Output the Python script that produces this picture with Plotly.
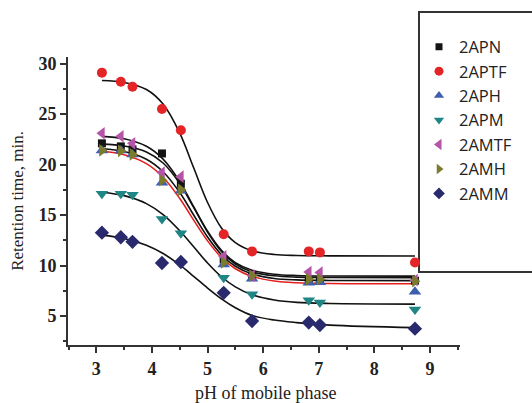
import plotly.graph_objects as go

# ---- data ----
ph = [3.1, 3.44, 3.65, 4.18, 4.52, 5.29, 5.8, 6.82, 7.02, 8.73]
names = ["2APN", "2APTF", "2APH", "2APM", "2AMTF", "2AMH", "2AMM"]
apn = [22.1, 21.8, 21.5, 21.1, 18.1, 10.6, 9.0, 8.5, 8.5, 8.5]
aptf = [29.1, 28.2, 27.7, 25.5, 23.4, 13.1, 11.4, 11.4, 11.3, 10.3]
aph = [21.4, 21.4, 21.0, 18.2, 17.4, 10.1, 8.7, 8.3, 8.35, 7.4]
apm = [17.1, 17.1, 17.0, 14.6, 13.2, 8.8, 7.15, 6.55, 6.35, 5.65]
amtf = [23.1, 22.8, 22.1, 19.2, 18.8, 10.9, 9.0, 9.35, 9.3, 8.55]
amh = [21.4, 21.35, 21.0, 18.45, 17.5, 10.3, 9.0, 8.65, 8.65, 8.45]
amm = [13.25, 12.8, 12.35, 10.25, 10.35, 7.3, 4.5, 4.35, 4.1, 3.75]

# fitted curves at these pH values
fit_ph = [3.1, 3.5, 3.9, 4.2, 4.5, 4.75, 5.0, 5.25, 5.5, 5.8, 6.2, 6.6, 7.2, 8.73]
fit_apn = [22.02, 21.83, 21.24, 20.15, 18.12, 15.75, 13.31, 11.38, 10.15, 9.38, 8.98, 8.85, 8.81, 8.8]
fit_aptf = [28.33, 28.13, 27.43, 25.99, 23.11, 19.68, 16.24, 13.72, 12.27, 11.46, 11.09, 10.99, 10.96, 10.95]
fit_aph = [21.31, 20.97, 20.09, 18.74, 16.64, 14.5, 12.44, 10.79, 9.68, 8.92, 8.46, 8.29, 8.22, 8.2]
fit_apm = [17.26, 16.92, 16.13, 15.04, 13.44, 11.85, 10.25, 8.89, 7.89, 7.1, 6.58, 6.35, 6.24, 6.18]
fit_amtf = [22.79, 22.55, 21.81, 20.54, 18.31, 15.82, 13.39, 11.5, 10.29, 9.54, 9.14, 9.01, 8.96, 8.95]
fit_amh = [21.56, 21.29, 20.53, 19.29, 17.23, 15.0, 12.83, 11.07, 9.93, 9.16, 8.72, 8.58, 8.52, 8.5]
fit_amm = [13.01, 12.68, 12.01, 11.19, 10.06, 8.93, 7.77, 6.7, 5.82, 5.06, 4.6, 4.35, 4.1, 3.85]

points = [apn, aptf, aph, apm, amtf, amh, amm]
fits = [fit_apn, fit_aptf, fit_aph, fit_apm, fit_amtf, fit_amh, fit_amm]
colors = ["#141414", "#e42528", "#3d5fae", "#1f8585", "#b554a8", "#7b7b2e", "#29296e"]
symbols = ["square", "circle", "triangle-up", "triangle-down", "triangle-left", "triangle-right", "diamond"]
sizes = [8, 10, 11, 11, 11, 11, 11]
legend_sizes = [7, 9, 9, 9, 10, 9, 9]
fit_colors = ["#111", "#111", "#e4201f", "#111", "#111", "#111", "#111"]

fig = go.Figure()
for i in range(len(names)):
    fig.add_trace(go.Scatter(x=fit_ph, y=fits[i], mode="lines", showlegend=False,
                             line=dict(color=fit_colors[i], width=1.6, shape="spline", smoothing=1.0),
                             hoverinfo="skip"))
for i in range(len(names)):
    fig.add_trace(go.Scatter(x=ph, y=points[i], mode="markers", name=names[i], showlegend=False,
                             marker=dict(color=colors[i], symbol=symbols[i], size=sizes[i],
                                         line=dict(width=0))))
# legend entries (smaller symbols, as in the reference legend)
for i in range(len(names)):
    fig.add_trace(go.Scatter(x=[None], y=[None], mode="markers", name=names[i],
                             marker=dict(color=colors[i], symbol=symbols[i], size=legend_sizes[i],
                                         line=dict(width=0))))

serif = "Liberation Serif"
axis_common = dict(showline=True, linewidth=2, linecolor="#333", ticks="outside", ticklen=6,
                   tickwidth=2, tickcolor="#333", showgrid=False, zeroline=False,
                   tickfont=dict(family=serif, size=18, color="#222", weight="bold"))
fig.update_layout(
    width=532, height=403,
    margin=dict(l=68, r=72, t=57, b=58),
    paper_bgcolor="white", plot_bgcolor="white",
    xaxis=dict(range=[2.49, 9.54], tickvals=[3, 4, 5, 6, 7, 8, 9],
               minor=dict(dtick=0.5, tick0=2.5, ticks="outside", ticklen=3, tickwidth=1.5, tickcolor="#333"),
               **axis_common),
    yaxis=dict(range=[2.13, 30.65], tickvals=[5, 10, 15, 20, 25, 30],
               minor=dict(dtick=2.5, tick0=0, ticks="outside", ticklen=3, tickwidth=1.5, tickcolor="#333"),
               title=dict(text="Retention time, min.", font=dict(family=serif, size=17, color="#222"), standoff=10),
               **axis_common),
    annotations=[dict(text="pH of mobile phase", xref="paper", yref="paper", x=0.503, y=-0.167,
                      xanchor="center", yanchor="middle", showarrow=False,
                      font=dict(family=serif, size=18, color="#222"))],
    legend=dict(x=0.8954, y=1.0956, xanchor="left", yanchor="top", bgcolor="rgba(0,0,0,0)",
                borderwidth=0, font=dict(family="Open Sans", size=16.5, color="#222"),
                tracegroupgap=0),
    shapes=[dict(type="rect", xref="paper", yref="paper", x0=0.8954, x1=1.4, y0=0.2535, y1=1.156,
                 line=dict(color="#333", width=2), fillcolor="white", layer="below")],
)
fig.write_html("out.html")
